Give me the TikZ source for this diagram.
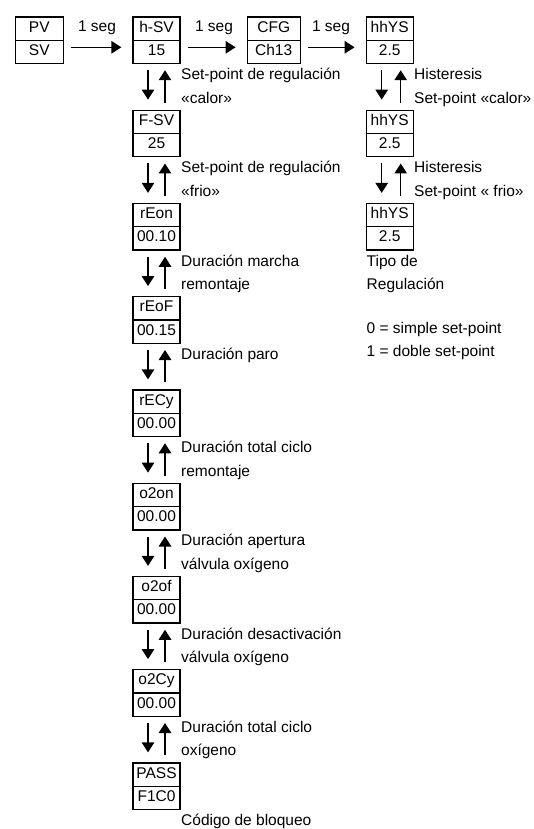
\documentclass[tikz,border=0pt]{standalone}
\usepackage{fontspec}
\setmainfont{Liberation Sans}
\usetikzlibrary{arrows.meta}
\newcommand{\fsz}{\fontsize{15.5pt}{18pt}\selectfont}
\tikzset{
  cell/.style={draw, line width=1.3pt, minimum width=47pt, minimum height=23.3pt,
    inner sep=0pt, text height=11pt, text depth=4pt, font=\fsz},
  lbl/.style={anchor=base west, inner sep=0pt, font=\fsz},
  seglbl/.style={anchor=base, inner sep=0pt, font=\fsz},
  harr/.style={-{Triangle[length=10pt,width=12.5pt]}, line width=1.3pt,
    shorten <=7pt, shorten >=11pt},
  dnarr/.style={-{Triangle[length=10pt,width=12.5pt]}, line width=1.3pt,
    shorten <=6pt, shorten >=10pt},
  uparr/.style={-{Triangle[length=10pt,width=12.5pt]}, line width=1.3pt,
    shorten <=7pt, shorten >=6pt}
}
\begin{document}
\begin{tikzpicture}[x=1pt,y=-1pt]
\useasboundingbox (0,0) rectangle (533,829);
% top row
\node[cell, minimum width=48pt] (pv) at (39.3,28.65) {PV};
\node[cell, minimum width=48pt] (sv) at (39.3,51.95) {SV};
\node[cell] (hsv) at (156.5,28.65) {h-SV};
\node[cell] (hsvv) at (156.5,51.95) {15};
\node[cell, minimum width=53pt] (cfg) at (273.7,28.65) {CFG};
\node[cell, minimum width=53pt] (cfgv) at (273.7,51.95) {Ch13};
\node[cell] (hya) at (389.7,28.65) {hhYS};
\node[cell] (hyav) at (389.7,51.95) {2.5};
% right column
\node[cell] (hyb) at (389.7,121.9) {hhYS};
\node[cell] (hybv) at (389.7,145.2) {2.5};
\node[cell] (hyc) at (389.7,215.15) {hhYS};
\node[cell] (hycv) at (389.7,238.45) {2.5};
% left column
\node[cell] (fsv) at (156.5,121.9) {F-SV};
\node[cell] (fsvv) at (156.5,145.2) {25};
\node[cell] (reon) at (156.5,215.15) {rEon};
\node[cell] (reonv) at (156.5,238.45) {00.10};
\node[cell] (reof) at (156.5,308.4) {rEoF};
\node[cell] (reofv) at (156.5,331.7) {00.15};
\node[cell] (recy) at (156.5,401.65) {rECy};
\node[cell] (recyv) at (156.5,424.95) {00.00};
\node[cell] (otwoon) at (156.5,494.9) {o2on};
\node[cell] (otwoonv) at (156.5,518.2) {00.00};
\node[cell] (otwoof) at (156.5,588.15) {o2of};
\node[cell] (otwoofv) at (156.5,611.45) {00.00};
\node[cell] (otwocy) at (156.5,681.4) {o2Cy};
\node[cell] (otwocyv) at (156.5,704.7) {00.00};
\node[cell] (pass) at (156.5,774.65) {PASS};
\node[cell] (passv) at (156.5,797.95) {F1C0};
% horizontal arrows
\draw[harr] ([yshift=4.65pt]sv.east) -- ([yshift=4.65pt]hsvv.west);
\draw[harr] ([yshift=4.65pt]hsvv.east) -- ([yshift=4.65pt]cfgv.west);
\draw[harr] ([yshift=4.65pt]cfgv.east) -- ([yshift=4.65pt]hyav.west);
\node[seglbl] (sega) at (97,31.7) {1 seg};
\node[seglbl] (segb) at (214,31.7) {1 seg};
\node[seglbl] (segc) at (331,31.7) {1 seg};
% vertical arrows left
\foreach \a/\b in {hsvv/fsv, fsvv/reon, reonv/reof, reofv/recy, recyv/otwoon,
                   otwoonv/otwoof, otwoofv/otwocy, otwocyv/pass}{
  \draw[dnarr] ([xshift=-8.5pt]\a.south) -- ([xshift=-8.5pt]\b.north);
  \draw[uparr] ([xshift=8.5pt]\b.north) -- ([xshift=8.5pt]\a.south);
}
% vertical arrows right
\foreach \a/\b in {hyav/hyb, hybv/hyc}{
  \draw[dnarr] ([xshift=-8pt]\a.south) -- ([xshift=-8pt]\b.north);
  \draw[uparr] ([xshift=11pt]\b.north) -- ([xshift=11pt]\a.south);
}
% labels left
\node[lbl] (la1) at (181,79.6) {Set-point de regulación};
\node[lbl] (la2) at (181,103.1) {«calor»};
\node[lbl] (lb1) at (181,172.85) {Set-point de regulación};
\node[lbl] (lb2) at (181,196.35) {«frio»};
\node[lbl] (lc1) at (181,266.1) {Duración marcha};
\node[lbl] (lc2) at (181,289.6) {remontaje};
\node[lbl] (ld1) at (181,359.35) {Duración paro};
\node[lbl] (le1) at (181,452.6) {Duración total ciclo};
\node[lbl] (le2) at (181,476.1) {remontaje};
\node[lbl] (lf1) at (181,545.85) {Duración apertura};
\node[lbl] (lf2) at (181,569.35) {válvula oxígeno};
\node[lbl] (lg1) at (181,639.1) {Duración desactivación};
\node[lbl] (lg2) at (181,662.6) {válvula oxígeno};
\node[lbl] (lh1) at (181,732.35) {Duración total ciclo};
\node[lbl] (lh2) at (181,755.85) {oxígeno};
\node[lbl] (li1) at (181,825.6) {Código de bloqueo};
% labels right
\node[lbl] (ra1) at (414,79.6) {Histeresis};
\node[lbl] (ra2) at (414,103.1) {Set-point «calor»};
\node[lbl] (rb1) at (414,172.85) {Histeresis};
\node[lbl] (rb2) at (414,196.35) {Set-point « frio»};
\node[lbl] (rc1) at (366.5,266.1) {Tipo de};
\node[lbl] (rc2) at (366.5,289.6) {Regulación};
\node[lbl] (rd1) at (366.5,333.5) {0 = simple set-point};
\node[lbl] (rd2) at (366.5,356) {1 = doble set-point};
\end{tikzpicture}
\end{document}
